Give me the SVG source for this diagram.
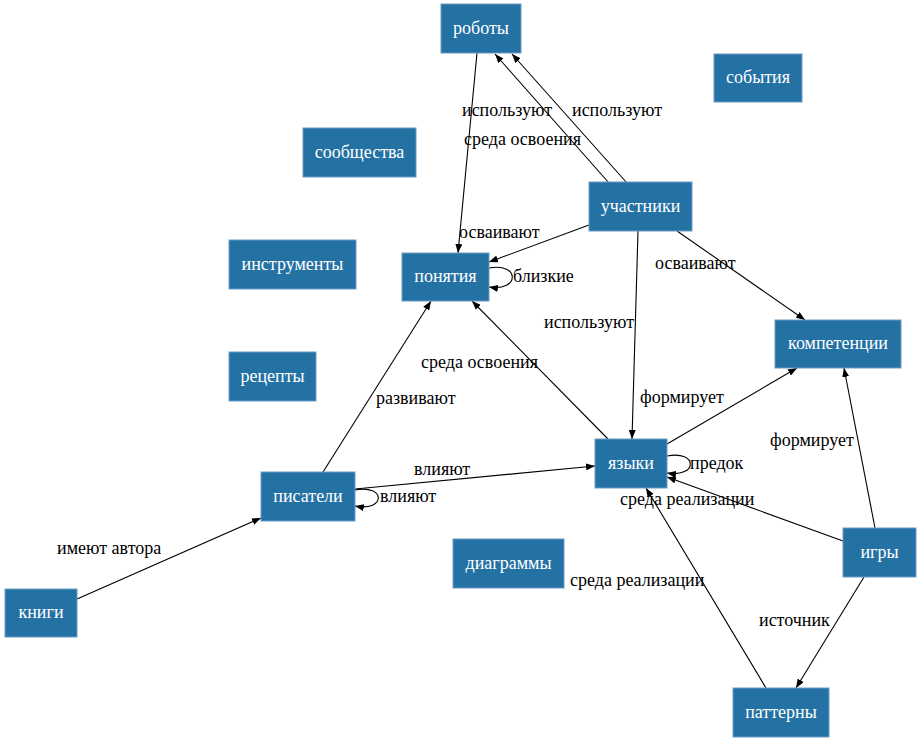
<svg xmlns="http://www.w3.org/2000/svg" width="921" height="743" viewBox="0 0 921 743">
<defs>
<marker id="ah" markerUnits="userSpaceOnUse" markerWidth="9" markerHeight="7" refX="9" refY="3.5" orient="auto">
<path d="M0,0 L9,3.5 L0,7 z" fill="#000"/>
</marker>
<style>
text{font-family:'Liberation Serif','Times New Roman',serif;font-size:18px}
.n rect{fill:#2471a3;stroke:#6a9cc4;stroke-width:1}
.n text{fill:#fff;text-anchor:middle}
.e path{fill:none;stroke:#000;stroke-width:1.1;marker-end:url(#ah)}
.l{fill:#000}
</style>
</defs>
<rect width="921" height="743" fill="#fff"/>
<g id="edges" class="e">
<path d="M477,53 L458,253"/>
<path d="M609,183 L495,54"/>
<path d="M627,183 L512,54"/>
<path d="M589,225 L489,262"/>
<path d="M638,231 L632,439"/>
<path d="M677,231 L805,320"/>
<path d="M489,268 C520,262 520,292 489,287"/>
<path d="M608,439 L472,301"/>
<path d="M323,472 L431,301"/>
<path d="M355,489 L595,466"/>
<path d="M355,490 C386,484 386,512 355,506"/>
<path d="M667,444 L797,368"/>
<path d="M667,456 C698,450 698,478 667,473"/>
<path d="M843,541 L667,477"/>
<path d="M766,688 L646,488"/>
<path d="M875,528 L844,368"/>
<path d="M864,577 L796,688"/>
<path d="M77,599 L261,518"/>
</g>
<g id="edge-labels">
<text class="l" x="462" y="116">используют</text>
<text class="l" x="572" y="116">используют</text>
<text class="l" x="464" y="145">среда освоения</text>
<text class="l" x="459" y="238">осваивают</text>
<text class="l" x="513" y="282">близкие</text>
<text class="l" x="655" y="269">осваивают</text>
<text class="l" x="544" y="328">используют</text>
<text class="l" x="421" y="368">среда освоения</text>
<text class="l" x="376" y="404">развивают</text>
<text class="l" x="640" y="403">формирует</text>
<text class="l" x="770" y="446">формирует</text>
<text class="l" x="690" y="469">предок</text>
<text class="l" x="414" y="475">влияют</text>
<text class="l" x="380" y="502">влияют</text>
<text class="l" x="620" y="505">среда реализации</text>
<text class="l" x="57" y="554">имеют автора</text>
<text class="l" x="570" y="586">среда реализации</text>
<text class="l" x="759" y="626">источник</text>
</g>
<g id="n-roboty" class="n"><rect x="441" y="4" width="80" height="49"/><text x="481" y="34">роботы</text></g>
<g id="n-sobytiya" class="n"><rect x="714" y="54" width="88" height="48"/><text x="758" y="83">события</text></g>
<g id="n-soobshchestva" class="n"><rect x="303" y="128" width="113" height="49"/><text x="359.5" y="158">сообщества</text></g>
<g id="n-uchastniki" class="n"><rect x="589" y="182" width="103" height="49"/><text x="640.5" y="212">участники</text></g>
<g id="n-instrumenty" class="n"><rect x="229" y="240" width="127" height="49"/><text x="292.5" y="270">инструменты</text></g>
<g id="n-ponyatiya" class="n"><rect x="402" y="253" width="87" height="48"/><text x="445.5" y="282">понятия</text></g>
<g id="n-kompetentsii" class="n"><rect x="775" y="320" width="126" height="48"/><text x="838" y="349">компетенции</text></g>
<g id="n-retsepty" class="n"><rect x="229" y="352" width="87" height="49"/><text x="272.5" y="382">рецепты</text></g>
<g id="n-yazyki" class="n"><rect x="595" y="439" width="72" height="49"/><text x="631" y="469">языки</text></g>
<g id="n-pisateli" class="n"><rect x="261" y="472" width="94" height="49"/><text x="308" y="502">писатели</text></g>
<g id="n-diagrammy" class="n"><rect x="453" y="539" width="111" height="49"/><text x="508.5" y="569">диаграммы</text></g>
<g id="n-igry" class="n"><rect x="843" y="528" width="73" height="49"/><text x="879.5" y="558">игры</text></g>
<g id="n-knigi" class="n"><rect x="5" y="589" width="72" height="48"/><text x="41" y="618">книги</text></g>
<g id="n-patterny" class="n"><rect x="733" y="688" width="96" height="49"/><text x="781" y="718">паттерны</text></g>
</svg>
